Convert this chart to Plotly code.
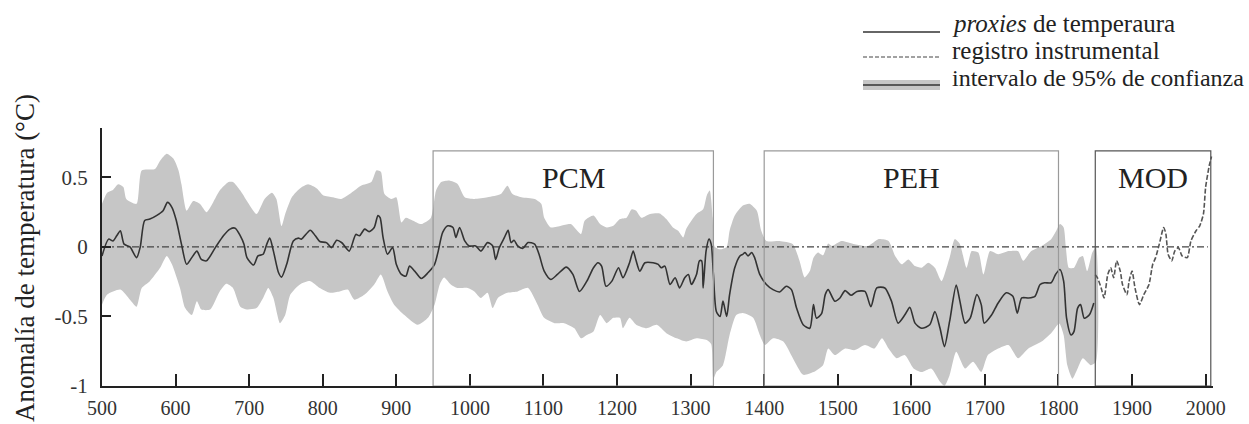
import plotly.graph_objects as go

# ---------------- data ----------------
proxy_years = [500, 509, 515, 520, 525, 530, 538, 547, 552, 558, 565, 574, 583, 589, 595, 601, 608, 615, 622, 629,
               635, 642, 654, 665, 674, 681, 688, 693, 697, 706, 712, 719, 724, 728, 733, 740, 744, 751, 760, 767,
               771, 783, 790, 796, 805, 812, 819, 826, 836, 845, 850, 857, 863, 870, 875, 878, 882, 888, 895, 900,
               907, 913, 918, 925, 934, 943, 952, 957, 963, 970, 977, 981, 986, 993, 999, 1008, 1015, 1024, 1031,
               1035, 1040, 1047, 1052, 1056, 1060, 1065, 1072, 1079, 1088, 1094, 1101, 1110, 1119, 1131, 1140, 1149,
               1159, 1168, 1174, 1179, 1185, 1193, 1202, 1208, 1217, 1222, 1226, 1231, 1238, 1249, 1256, 1260, 1265,
               1272, 1279, 1285, 1292, 1297, 1301, 1308, 1312, 1315, 1317, 1321, 1325, 1328, 1331, 1335, 1340, 1344,
               1349, 1353, 1360, 1367, 1371, 1374, 1378, 1383, 1387, 1394, 1403, 1412, 1421, 1430, 1437, 1444, 1453,
               1462, 1467, 1471, 1478, 1483, 1487, 1496, 1503, 1510, 1518, 1526, 1537, 1545, 1553, 1564, 1573, 1582,
               1591, 1598, 1605, 1614, 1625, 1632, 1639, 1645, 1652, 1661, 1666, 1673, 1680, 1689, 1695, 1699, 1709,
               1718, 1729, 1738, 1744, 1750, 1759, 1768, 1775, 1781, 1790, 1796, 1802, 1807, 1811, 1817, 1821, 1826,
               1830, 1835, 1842, 1848]
proxy_values = [-0.065, 0.056, 0.043, 0.08, 0.116, 0.02, 0.0, -0.077, 0.0, 0.19, 0.2, 0.225, 0.26, 0.32, 0.285, 0.19,
                0.02, -0.125, -0.077, -0.03, -0.09, -0.1, -0.005, 0.08, 0.128, 0.135, 0.08, 0.02, -0.077, -0.13,
                -0.065, -0.053, 0.02, 0.063, -0.03, -0.186, -0.217, -0.125, 0.043, 0.063, 0.056, 0.12, 0.08, 0.039,
                0.031, -0.005, 0.048, 0.03, -0.03, 0.09, 0.08, 0.128, 0.11, 0.14, 0.225, 0.21, 0.068, -0.053, -0.005,
                -0.125, -0.198, -0.21, -0.138, -0.174, -0.227, -0.186, -0.125, -0.03, 0.104, 0.152, 0.14, 0.068,
                0.14, 0.043, 0.007, 0.007, -0.03, 0.031, 0.007, -0.09, -0.005, 0.068, 0.12, 0.031, 0.048, 0.007,
                -0.01, 0.031, 0.02, -0.053, -0.174, -0.234, -0.198, -0.145, -0.198, -0.32, -0.246, -0.15, -0.114,
                -0.138, -0.283, -0.246, -0.15, -0.222, -0.114, -0.03, -0.1, -0.174, -0.114, -0.114, -0.126, -0.15,
                -0.138, -0.27, -0.222, -0.295, -0.222, -0.198, -0.27, -0.198, -0.1, -0.1, -0.295, -0.03, 0.056, 0.02,
                -0.198, -0.464, -0.5, -0.39, -0.5, -0.343, -0.15, -0.065, -0.053, -0.04, -0.065, -0.04, -0.077,
                -0.198, -0.27, -0.307, -0.324, -0.283, -0.307, -0.44, -0.56, -0.585, -0.415, -0.512, -0.48, -0.343,
                -0.307, -0.39, -0.367, -0.314, -0.348, -0.32, -0.32, -0.43, -0.295, -0.295, -0.39, -0.548, -0.49,
                -0.435, -0.548, -0.585, -0.56, -0.464, -0.585, -0.717, -0.536, -0.275, -0.39, -0.548, -0.512, -0.343,
                -0.415, -0.548, -0.49, -0.403, -0.33, -0.355, -0.476, -0.367, -0.367, -0.355, -0.27, -0.258, -0.258,
                -0.198, -0.162, -0.246, -0.512, -0.633, -0.609, -0.44, -0.415, -0.512, -0.488, -0.403]

upper_years = [500, 507, 515, 522, 529, 533, 547, 554, 572, 579, 588, 597, 604, 608, 615, 624, 633, 642, 651, 660,
               672, 678, 688, 697, 710, 721, 731, 737, 744, 749, 758, 769, 780, 792, 801, 814, 825, 839, 852, 866,
               873, 879, 884, 893, 900, 907, 913, 922, 934, 947, 954, 961, 972, 983, 993, 1006, 1024, 1042, 1051,
               1058, 1070, 1088, 1097, 1101, 1110, 1124, 1137, 1151, 1156, 1168, 1177, 1186, 1195, 1204, 1213, 1220,
               1226, 1233, 1245, 1258, 1267, 1276, 1283, 1290, 1294, 1301, 1308, 1317, 1322, 1326, 1330, 1333, 1340,
               1349, 1353, 1360, 1371, 1380, 1390, 1396, 1403, 1421, 1439, 1448, 1455, 1462, 1467, 1473, 1480, 1487,
               1492, 1505, 1523, 1541, 1555, 1569, 1578, 1587, 1596, 1605, 1614, 1623, 1632, 1641, 1652, 1659, 1666,
               1675, 1682, 1691, 1698, 1707, 1718, 1732, 1745, 1752, 1763, 1777, 1790, 1797, 1802, 1807, 1810, 1814,
               1821, 1828, 1833, 1839, 1846, 1851]
upper_values = [0.31, 0.39, 0.41, 0.45, 0.43, 0.345, 0.31, 0.55, 0.56, 0.62, 0.67, 0.635, 0.55, 0.45, 0.26, 0.33,
                0.31, 0.25, 0.32, 0.405, 0.466, 0.466, 0.405, 0.33, 0.237, 0.345, 0.39, 0.345, 0.15, 0.237, 0.357,
                0.42, 0.45, 0.42, 0.37, 0.357, 0.345, 0.39, 0.44, 0.466, 0.55, 0.54, 0.38, 0.345, 0.357, 0.176, 0.21,
                0.19, 0.164, 0.21, 0.405, 0.466, 0.478, 0.454, 0.357, 0.345, 0.357, 0.38, 0.44, 0.38, 0.357, 0.345,
                0.31, 0.21, 0.14, 0.152, 0.164, 0.092, 0.188, 0.225, 0.164, 0.14, 0.152, 0.2, 0.21, 0.27, 0.26, 0.21,
                0.237, 0.24, 0.2, 0.14, 0.116, 0.068, 0.128, 0.188, 0.237, 0.27, 0.37, 0.405, 0.21, 0.0, -0.017, 0.0,
                0.116, 0.225, 0.297, 0.31, 0.26, 0.116, 0.043, 0.043, 0.02, -0.1, -0.22, -0.174, -0.077, -0.04,
                -0.06, 0.025, 0.007, 0.043, 0.02, 0.007, 0.056, 0.043, -0.065, -0.125, -0.09, -0.138, -0.15, -0.114,
                -0.15, -0.246, -0.077, 0.056, 0.02, -0.15, -0.03, -0.04, -0.198, -0.03, -0.053, -0.03, -0.03, -0.1,
                -0.03, 0.007, 0.056, 0.116, 0.164, 0.14, 0.0, -0.15, -0.15, -0.077, -0.065, -0.174, -0.04, 0.0]

lower_years = [500, 507, 525, 538, 547, 554, 565, 579, 588, 595, 606, 613, 622, 629, 635, 647, 660, 669, 678, 688,
               697, 710, 719, 726, 733, 742, 749, 756, 769, 783, 796, 810, 823, 834, 843, 857, 870, 879, 888, 897,
               911, 929, 943, 952, 959, 965, 974, 983, 997, 1006, 1015, 1024, 1031, 1038, 1051, 1065, 1079, 1092,
               1101, 1115, 1128, 1142, 1151, 1159, 1168, 1177, 1186, 1195, 1204, 1208, 1217, 1226, 1240, 1254, 1267,
               1281, 1294, 1308, 1322, 1328, 1331, 1335, 1344, 1353, 1362, 1371, 1385, 1394, 1401, 1412, 1426, 1439,
               1453, 1467, 1480, 1487, 1496, 1510, 1523, 1537, 1550, 1560, 1569, 1580, 1591, 1603, 1614, 1627, 1639,
               1645, 1652, 1661, 1673, 1684, 1695, 1704, 1718, 1732, 1745, 1759, 1777, 1790, 1801, 1807, 1812, 1819,
               1826, 1833, 1844, 1851]
lower_values = [-0.415, -0.343, -0.307, -0.38, -0.43, -0.295, -0.246, -0.15, -0.065, -0.125, -0.295, -0.44, -0.49,
                -0.39, -0.45, -0.45, -0.32, -0.265, -0.295, -0.43, -0.45, -0.44, -0.367, -0.295, -0.367, -0.548,
                -0.49, -0.343, -0.27, -0.246, -0.295, -0.33, -0.32, -0.307, -0.38, -0.343, -0.27, -0.198, -0.32,
                -0.415, -0.49, -0.56, -0.51, -0.415, -0.27, -0.22, -0.27, -0.295, -0.295, -0.32, -0.367, -0.33, -0.44,
                -0.367, -0.33, -0.32, -0.295, -0.415, -0.51, -0.548, -0.548, -0.585, -0.657, -0.633, -0.608, -0.49,
                -0.548, -0.51, -0.51, -0.585, -0.51, -0.56, -0.585, -0.56, -0.62, -0.657, -0.68, -0.657, -0.67, -0.7,
                -0.95, -0.9, -0.85, -0.633, -0.49, -0.476, -0.51, -0.633, -0.705, -0.657, -0.68, -0.8, -0.92, -0.9,
                -0.85, -0.73, -0.778, -0.73, -0.742, -0.705, -0.73, -0.657, -0.73, -0.8, -0.778, -0.874, -0.9, -0.874,
                -0.97, -1.0, -0.923, -0.754, -0.874, -0.826, -0.9, -0.778, -0.73, -0.705, -0.8, -0.73, -0.68, -0.62,
                -0.55, -0.633, -0.85, -0.947, -0.874, -0.8, -0.85, -0.826]

instr_years = [1850, 1853, 1858, 1862, 1867, 1871, 1875, 1879, 1884, 1887, 1893, 1896, 1900, 1904, 1910, 1916, 1923,
               1928, 1932, 1937, 1943, 1946, 1949, 1954, 1958, 1963, 1968, 1975, 1980, 1987, 1992, 1997, 2000, 2005,
               2008]
instr_values = [-0.2, -0.222, -0.295, -0.367, -0.198, -0.15, -0.222, -0.1, -0.174, -0.27, -0.343, -0.246, -0.174,
                -0.295, -0.415, -0.343, -0.27, -0.126, -0.077, 0.02, 0.14, 0.092, -0.053, -0.1, -0.03, -0.005,
                -0.065, -0.077, 0.043, 0.116, 0.152, 0.237, 0.43, 0.587, 0.65]

baseline_years = [500, 2003]
baseline_values = [0, 0]

period_names = ["PCM", "PEH", "MOD"]
period_start = [950, 1400, 1850]
period_end = [1331, 1800, 2007]
period_top = 0.69

x_ticks = [500, 600, 700, 800, 900, 1000, 1100, 1200, 1300, 1400, 1500, 1600, 1700, 1800, 1900, 2000]
y_ticks = [-1, -0.5, 0, 0.5]
y_ticklabels = ["-1", "-0.5", "0", "0.5"]

legend_labels = ["<i>proxies</i> de temperaura", "registro instrumental", "intervalo de 95% de confianza"]

# ---------------- figure ----------------
FONT = "Liberation Serif, Times New Roman, serif"
W, H = 1249, 424
L, R, T, B = 102, 36, 128, 38
PW, PH = W - L - R, H - T - B


def px2x(px):
    return (px - L) / PW


def py2y(py):
    return (H - B - py) / PH


band_color = "rgb(198,198,198)"
line_color = "#333333"

fig = go.Figure()

fig.add_trace(go.Scatter(
    x=upper_years + lower_years[::-1],
    y=upper_values + lower_values[::-1],
    fill="toself", fillcolor=band_color, mode="lines",
    line=dict(width=0, color=band_color, shape="spline", smoothing=0.6),
    hoverinfo="skip", showlegend=False))

fig.add_trace(go.Scatter(
    x=baseline_years, y=baseline_values, mode="lines",
    line=dict(color="#444444", width=1.1, dash="7px,3px,2px,3px"),
    showlegend=False))

fig.add_trace(go.Scatter(
    x=proxy_years, y=proxy_values, mode="lines",
    line=dict(color=line_color, width=1.6, shape="spline", smoothing=0.7),
    showlegend=False))

fig.add_trace(go.Scatter(
    x=instr_years, y=instr_values, mode="lines",
    line=dict(color="#555555", width=1.6, dash="5px,2px", shape="spline", smoothing=0.6),
    showlegend=False))

shapes = []
annotations = []
for name, s, e in zip(period_names, period_start, period_end):
    col = "#555555" if name == "MOD" else "#9a9a9a"
    shapes.append(dict(type="rect", xref="x", yref="y", x0=s, x1=e, y0=-1, y1=period_top,
                       line=dict(color=col, width=1.2), fillcolor="rgba(0,0,0,0)", layer="above"))
    annotations.append(dict(x=(s + e) / 2, y=0.5, xref="x", yref="y", text=name, showarrow=False,
                            font=dict(family=FONT, size=30, color="#222222"),
                            xanchor="center", yanchor="middle"))

# legend (manual)
lx0, lx1, ltext = 863, 940, 950
rows_line = [32, 57, 85]
rows_text = [24, 51, 78]
legend_sizes = [25, 25, 24]
shapes.append(dict(type="line", xref="paper", yref="paper", x0=px2x(lx0), x1=px2x(lx1),
                   y0=py2y(rows_line[0]), y1=py2y(rows_line[0]), line=dict(color=line_color, width=1.4)))
shapes.append(dict(type="line", xref="paper", yref="paper", x0=px2x(lx0), x1=px2x(lx1),
                   y0=py2y(rows_line[1]), y1=py2y(rows_line[1]), line=dict(color="#444444", width=1.2, dash="4px,2px")))
shapes.append(dict(type="rect", xref="paper", yref="paper", x0=px2x(lx0), x1=px2x(lx1),
                   y0=py2y(rows_line[2] + 5), y1=py2y(rows_line[2] - 5), line=dict(width=0), fillcolor=band_color))
shapes.append(dict(type="line", xref="paper", yref="paper", x0=px2x(lx0), x1=px2x(lx1),
                   y0=py2y(rows_line[2]), y1=py2y(rows_line[2]), line=dict(color=line_color, width=1.5)))
for lab, ty, fs in zip(legend_labels, rows_text, legend_sizes):
    annotations.append(dict(x=px2x(ltext), y=py2y(ty), xref="paper", yref="paper", text=lab, showarrow=False,
                            xanchor="left", yanchor="middle", align="left",
                            font=dict(family=FONT, size=fs, color="#222222")))

annotations.append(dict(x=px2x(25), y=py2y(258), xref="paper", yref="paper",
                        text="Anomalía de temperatura (°C)", textangle=-90, showarrow=False,
                        xanchor="center", yanchor="middle",
                        font=dict(family=FONT, size=27, color="#222222")))

fig.update_layout(
    width=W, height=H,
    margin=dict(l=L, r=R, t=T, b=B, pad=0, autoexpand=False),
    paper_bgcolor="white", plot_bgcolor="white",
    font=dict(family=FONT, size=20, color="#222222"),
    shapes=shapes, annotations=annotations,
    showlegend=False,
    xaxis=dict(range=[500, 2010], tickvals=x_ticks, ticks="inside", ticklen=12, tickwidth=2,
               tickcolor="#222222", showline=True, linecolor="#222222", linewidth=2,
               showgrid=False, zeroline=False, ticklabelstandoff=3, automargin=False,
               tickfont=dict(family=FONT, size=20, color="#333333")),
    yaxis=dict(range=[-1, 0.855], tickvals=y_ticks, ticktext=y_ticklabels, ticks="inside", ticklen=9,
               tickwidth=2, tickcolor="#222222", showline=True, linecolor="#222222", linewidth=2,
               showgrid=False, zeroline=False, ticklabelstandoff=8, automargin=False,
               tickfont=dict(family=FONT, size=21, color="#333333")),
)

fig.write_html("out.html")
